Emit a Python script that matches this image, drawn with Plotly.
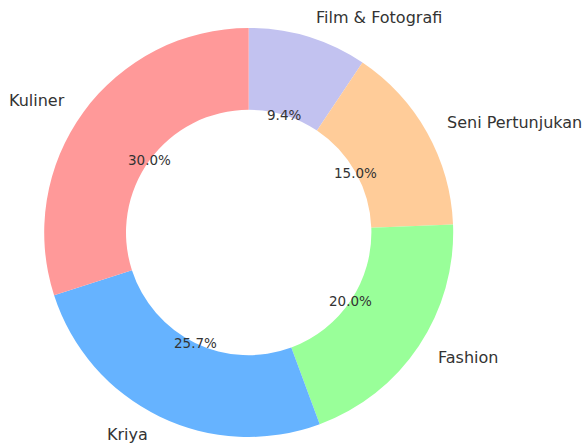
import math
import plotly.graph_objects as go

categories = ["Kuliner", "Kriya", "Fashion", "Seni Pertunjukan", "Film & Fotografi"]
values = [30.0, 25.7, 20.0, 15.0, 9.4]
colors = ["#ff9999", "#66b3ff", "#99ff99", "#ffcc99", "#c2c2f0"]

W, H = 582, 444
CX, CY = 248.7, 232.5   # pixel center (from top)
R = 204.5
HOLE = 0.6

# matplotlib-style: start at 12 o'clock, counterclockwise.  Equivalent to
# clockwise drawing of the reversed order.
fig = go.Figure(go.Pie(
    labels=categories[::-1], values=values[::-1], sort=False, direction="clockwise",
    rotation=0, hole=HOLE, textposition="none", hoverinfo="label+percent",
    marker=dict(colors=colors[::-1], line=dict(width=0)),
    domain=dict(x=[(CX - R) / W, (CX + R) / W], y=[(H - CY - R) / H, (H - CY + R) / H]),
    showlegend=False,
))

total = sum(values)
cum = 0.0
annotations = []
for cat, v in zip(categories, values):
    mid = math.radians(90 + 360 * (cum + v / 2) / total)
    cum += v
    c, s = math.cos(mid), math.sin(mid)
    px, py = CX + 0.6 * R * c, CY - 0.6 * R * s
    annotations.append(dict(x=px / W, y=1 - py / H, xref="paper", yref="paper",
                            text=f"{100 * v / total:.1f}%", showarrow=False,
                            xanchor="center", yanchor="middle",
                            font=dict(family="DejaVu Sans", size=13.5, color="#333333")))
    lx, ly = CX + 1.1 * R * c, CY - 1.1 * R * s
    annotations.append(dict(x=lx / W, y=1 - ly / H, xref="paper", yref="paper",
                            text=cat, showarrow=False,
                            xanchor="left" if c > 0 else "right", yanchor="middle",
                            font=dict(family="DejaVu Sans", size=16, color="#333333")))

fig.update_layout(
    width=W, height=H, margin=dict(l=0, r=0, t=0, b=0),
    paper_bgcolor="white", plot_bgcolor="white",
    annotations=annotations,
)
fig.write_html("out.html", config={"displayModeBar": False},
               post_script="document.body.style.margin='0';")
